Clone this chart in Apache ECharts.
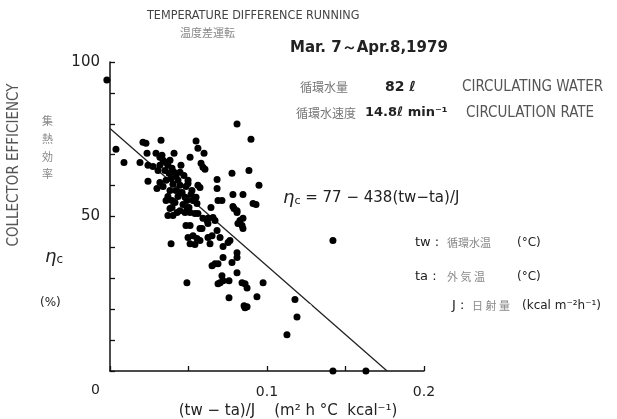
<!DOCTYPE html>
<html><head><meta charset="utf-8">
<script src="https://cdn.jsdelivr.net/npm/echarts@6/dist/echarts.min.js"></script>
<style>html,body{margin:0;padding:0;background:#fff}#c{width:617px;height:419px}</style>
</head><body><div id="c"></div>
<script>
// ---- data ----
const scatterPoints = [
[-0.002,94.2],[0.0809,79.9],[0.0898,75],[0.0038,71.8],[0.0089,67.5],[0.021,74],[0.0229,73.7],[0.0325,74.7],[0.0548,74.4],[0.056,72.1],
[0.0599,70.5],[0.0236,70.5],[0.0293,70.5],[0.0331,69.8],[0.0408,70.5],[0.0191,67.5],[0.0242,66.6],[0.0274,66.2],[0.051,69.2],[0.058,67.2],
[0.0592,65.9],[0.0605,65.3],[0.0446,64.3],[0.0777,64],[0.0885,64.9],[0.0949,60.1],[0.0242,61.4],[0.0299,59.1],[0.0682,62],[0.0682,59.1],
[0.0688,55.2],[0.0713,55.2],[0.0783,57.1],[0.0847,57.1],[0.0911,54.2],[0.093,53.9],[0.0783,53.2],[0.079,52.6],[0.0809,51.9],[0.056,60.1],
[0.0573,59.4],[0.0497,60.7],[0.0643,52.9],[0.0548,56.2],[0.0529,55.2],[0.0554,54.2],[0.0446,57.5],[0.049,55.2],[0.0395,55.2],[0.0395,52.9],
[0.0382,52.6],[0.0401,50.3],[0.049,52.9],[0.051,51.3],[0.0541,51],[0.056,51],[0.0624,49.4],[0.0656,49.7],[0.0669,48.7],[0.0828,48.7],
[0.0847,49.4],[0.0841,47.1],[0.0847,46.1],[0.0484,47.1],[0.051,47.1],[0.0573,46.1],[0.0618,48.7],[0.0624,47.7],[0.0682,45.5],[0.0497,43.2],
[0.0529,43.8],[0.0554,42.9],[0.0573,42.2],[0.0624,43.2],[0.0701,43.2],[0.0389,41.2],[0.051,41.2],[0.0541,40.9],[0.0637,41.2],[0.072,40.3],
[0.0752,41.6],[0.0586,46.1],[0.065,43.8],[0.0764,42.2],[0.072,36.7],[0.0777,35.1],[0.0809,38.3],[0.0809,36.7],[0.065,34.1],[0.0669,34.7],
[0.0688,34.7],[0.0809,31.8],[0.0713,30.8],[0.072,29.2],[0.0701,28.6],[0.0688,28.2],[0.0758,29.2],[0.049,28.6],[0.0841,28.6],[0.086,28.2],
[0.0873,26.9],[0.0975,28.6],[0.0758,23.7],[0.0936,24],[0.0854,21.1],[0.0873,20.8],[0.086,20.5],[0.1178,23.1],[0.1191,17.5],[0.1127,11.7],
[0.142,0],[0.163,0],[0.142,42.2],[0.0809,51.3],[0.0815,47.7],[0.0478,51.3],[0.0592,49.4],[0.0369,50.3],
[0.0318,69.2],[0.0338,68.2],[0.0357,67.5],[0.0369,66.6],[0.0382,68.2],[0.0395,65.6],[0.035,64.9],[0.0376,64],[0.0408,64.3],[0.042,63],
[0.0389,62.3],[0.0433,61.7],[0.0357,61.7],[0.0401,60.4],[0.0446,60.1],[0.042,58.4],[0.0459,57.8],[0.0382,58.4],[0.0433,56.5],[0.0478,56.2],
[0.0369,56.5],[0.0414,54.5],[0.0465,53.9],[0.0503,52.9],[0.0446,51.9],[0.0522,58.4],[0.0484,59.7],[0.0338,59.7],[0.0318,61],[0.0357,55.2],
[0.0535,55.2],[0.0427,51.3],[0.0318,66.6],[0.0306,64.9],[0.0452,66.6],[0.0471,63.3],[0.0497,61.7],[0.0516,57.1]
];
const hollowPoints = [[0.1261,20.5]];
const fitLine = [[0,78.5],[0.1765,0]];
const xTickLabels = ['0.1','0.2'];
const yTickLabels = ['50','100'];

const narrow = "'Liberation Sans Narrow','DejaVu Sans Condensed','DejaVu Sans Mono',sans-serif";
const jp = "'Noto Sans CJK JP',sans-serif";
const num = "'DejaVu Sans',sans-serif";

function t(x,y,text,font,color,extra){
  return {type:'text',x:x,y:y,style:Object.assign({text:text,font:font,fill:color||'#222',textVerticalAlign:'middle'},extra||{})};
}

const chart = echarts.init(document.getElementById('c'),null,{renderer:'canvas'});
chart.setOption({
  animation:false,
  backgroundColor:'#fff',
  grid:{left:110,right:193,top:62,bottom:48},
  xAxis:{type:'value',min:0,max:0.2,interval:0.05,
    axisLine:{lineStyle:{color:'#111',width:1.5}},
    axisTick:{inside:true,length:5,lineStyle:{color:'#111',width:1.3}},
    splitLine:{show:false},
    axisLabel:{margin:14,color:'#222',fontSize:14,fontFamily:num,
      formatter:v=>{const s=(Math.round(v*100)/100).toString();return xTickLabels.indexOf(s)>=0?s:'';}}},
  yAxis:{type:'value',min:0,max:100,interval:10,
    axisLine:{show:true,lineStyle:{color:'#111',width:1.5}},
    axisTick:{show:true,inside:true,length:5,lineStyle:{color:'#111',width:1.3}},
    splitLine:{show:false},
    axisLabel:{margin:10,color:'#222',fontSize:15,fontFamily:num,
      formatter:v=>yTickLabels.indexOf(String(v))>=0?String(v):''}},
  series:[
    {type:'line',data:fitLine,symbol:'none',lineStyle:{color:'#222',width:1.3},silent:true,z:1},
    {type:'scatter',data:scatterPoints,symbol:'circle',symbolSize:7,itemStyle:{color:'#000',opacity:1},clip:false,z:2},
    {type:'scatter',data:hollowPoints,symbol:'emptyCircle',symbolSize:6,itemStyle:{color:'#fff',borderColor:'#111',borderWidth:1.5,opacity:1},clip:false,z:3}
  ],
  graphic:[
    t(147,16,'TEMPERATURE DIFFERENCE RUNNING','12.5px '+narrow,'#444'),
    t(180,33,'温度差運転','11px '+jp,'#888'),
    t(290,48,'Mar. 7～Apr.8,1979','600 15px '+num,'#222'),
    t(300,87,'循環水量','12px '+jp,'#777'),
    t(385,87,'82 ℓ','bold 14px '+num,'#222'),
    t(462,87,'CIRCULATING WATER','15px '+narrow,'#555'),
    t(296,113,'循環水速度','12px '+jp,'#777'),
    t(365,113,'14.8ℓ min⁻¹','bold 13px '+num,'#222'),
    t(466,113,'CIRCULATION RATE','15px '+narrow,'#555'),
    {type:'text',x:14,y:165,rotation:Math.PI/2,style:{text:'COLLECTOR EFFICIENCY',font:'15px '+narrow,fill:'#555',textAlign:'center',textVerticalAlign:'middle'}},
    t(42,121,'集','11px '+jp,'#888'),
    t(42,139,'熱','11px '+jp,'#888'),
    t(42,157,'効','11px '+jp,'#888'),
    t(42,174,'率','11px '+jp,'#888'),
    {type:'text',x:45,y:257,style:{text:'{e|η}{s|c}',fill:'#222',textVerticalAlign:'middle',
      rich:{e:{font:'italic 18px '+num,fill:'#222'},s:{font:'12px '+num,fill:'#222',padding:[6,0,0,0]}}}},
    t(40,303,'(%)','12px '+num,'#222'),
    {type:'text',x:283,y:198,style:{text:'{e|η}{s|c}{n| = 77 − 438(tw−ta)/J}',fill:'#222',textVerticalAlign:'middle',
      rich:{e:{font:'italic 18px '+num,fill:'#222'},s:{font:'11px '+num,fill:'#222',padding:[6,0,0,0]},n:{font:'15px '+num,fill:'#222'}}}},
    t(415,243,'tw :','13px '+num,'#222'),
    t(447,243,'循環水温','11px '+jp,'#888'),
    t(517,243,'(°C)','12px '+num,'#222'),
    t(415,277,'ta :','13px '+num,'#222'),
    t(447,277,'外 気 温','11px '+jp,'#888'),
    t(517,277,'(°C)','12px '+num,'#222'),
    t(452,306,'J :','13px '+num,'#222'),
    t(472,306,'日 射 量','11px '+jp,'#888'),
    t(522,306,'(kcal m⁻²h⁻¹)','12px '+num,'#222'),
    t(91,390,'0','14px '+num,'#222'),
    {type:'text',x:288,y:411,style:{text:'(tw − ta)/J    (m² h °C  kcal⁻¹)',font:'15px '+num,fill:'#222',textAlign:'center',textVerticalAlign:'middle'}}
  ]
});
</script></body></html>
